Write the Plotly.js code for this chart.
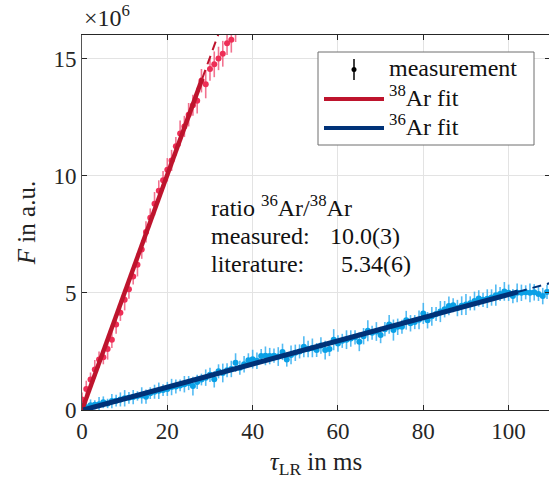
<!DOCTYPE html>
<html>
<head>
<meta charset="utf-8">
<script src="https://cdn.plot.ly/plotly-3.0.1.min.js"></script>
<style>html,body{margin:0;padding:0;background:#fff;overflow:hidden;}</style>
</head>
<body>
<div id="chart" style="width:551px;height:479px;"></div>
<script>
// ---- data (F in units of 1e6, tau in ms) ----
const ar38Tau = [0,1,2,3,4,5,6,7,8,9,10,11,12,13,14,15,16,17,18,19,20,21,22,23,24,25,26,27,28,29,30,31,32,33,34,35,36];
const ar38F = [0.45,0.9,1.3,1.73,2.15,2.25,2.6,3.0,3.65,4.15,4.7,5.15,5.7,6.2,6.85,7.6,8.2,8.8,9.35,9.8,10.25,10.65,11.25,11.8,12.1,12.6,13.0,13.2,14.05,13.9,14.55,14.75,15.0,15.2,15.65,15.8,16.3];
const ar38Err = [0.3,0.35,0.3,0.4,0.35,0.3,0.45,0.35,0.4,0.35,0.45,0.4,0.35,0.5,0.4,0.45,0.4,0.5,0.45,0.4,0.5,0.45,0.4,0.55,0.45,0.5,0.45,0.55,0.5,0.6,0.5,0.55,0.5,0.55,0.5,0.55,0.6];

const ar36Tau = [0,1,2,3,4,5,6,7,8,9,10,11,12,13,14,15,16,17,18,19,20,21,22,23,24,25,26,27,28,29,30,31,32,33,34,35,36,37,38,39,40,41,42,43,44,45,46,47,48,49,50,51,52,53,54,55,56,57,58,59,60,61,62,63,64,65,66,67,68,69,70,71,72,73,74,75,76,77,78,79,80,81,82,83,84,85,86,87,88,89,90,91,92,93,94,95,96,97,98,99,100,101,102,103,104,105,106,107,108,109,110];
const ar36F = [0.18,0.12,0.2,0.22,0.25,0.33,0.28,0.38,0.4,0.45,0.5,0.52,0.55,0.6,0.62,0.57,0.72,0.78,0.82,0.85,0.9,0.98,1.0,1.05,1.1,1.15,1.02,1.2,1.3,1.38,1.5,1.31,1.65,1.58,1.7,1.75,2.02,1.8,1.95,2.12,2.17,2.1,2.3,2.31,2.3,2.32,2.28,2.48,2.15,2.35,2.44,2.5,2.7,2.6,2.65,2.56,2.75,2.56,2.6,3.0,2.84,2.95,3.0,3.05,3.1,2.91,3.15,3.38,3.3,3.35,3.2,3.45,3.65,3.41,3.55,3.55,3.83,3.7,3.75,3.85,4.12,3.83,4.0,4.1,4.2,4.3,4.44,4.47,4.35,4.45,4.5,4.55,4.65,4.76,4.7,4.75,4.8,4.9,4.95,5.06,5.0,4.86,5.0,5.0,5.02,5.0,5.02,4.95,4.86,5.04,5.08];
const ar36Err = [0.15,0.2,0.25,0.2,0.3,0.25,0.2,0.3,0.25,0.3,0.35,0.25,0.3,0.2,0.35,0.3,0.25,0.3,0.35,0.25,0.3,0.35,0.3,0.25,0.35,0.3,0.4,0.3,0.25,0.35,0.3,0.35,0.3,0.4,0.3,0.35,0.4,0.3,0.35,0.3,0.4,0.35,0.3,0.4,0.35,0.3,0.4,0.35,0.3,0.4,0.35,0.3,0.45,0.35,0.4,0.3,0.35,0.4,0.3,0.45,0.35,0.3,0.4,0.35,0.3,0.4,0.35,0.45,0.3,0.4,0.35,0.3,0.4,0.45,0.35,0.3,0.4,0.35,0.3,0.4,0.45,0.35,0.4,0.3,0.45,0.35,0.4,0.3,0.35,0.4,0.45,0.3,0.4,0.35,0.3,0.4,0.35,0.45,0.3,0.4,0.35,0.3,0.4,0.35,0.3,0.4,0.35,0.3,0.35,0.3,0.35];

// fit lines (endpoints): solid part then dashed extrapolation
const fit38SolidTau = [0, 28.2];
const fit38SolidF = [0, 14.15];
const fit38DashTau = [28.2, 33];
const fit38DashF = [14.15, 16.55];
const fit36SolidTau = [0.3, 102.2];
const fit36SolidF = [0, 5.04];
const fit36DashTau = [102.2, 110];
const fit36DashF = [5.04, 5.43];

const xTicks = [0,20,40,60,80,100];
const yTicks = [0,5,10,15];
const legendLabels = ['measurement', '<sup>38</sup>Ar fit', '<sup>36</sup>Ar fit'];
const infoLines = ['ratio <sup>36</sup>Ar/<sup>38</sup>Ar', 'measured:', 'literature:'];
const infoValues = ['10.0(3)', '5.34(6)'];

const SCALE = 1e6;
const sc = a => a.map(v => v * SCALE);

// colours
const RED_PT = 'rgb(238,46,86)', RED_ERR = 'rgba(240,90,125,0.85)', RED_FIT = 'rgb(190,20,45)';
const BLUE_PT = 'rgb(10,160,230)', BLUE_ERR = 'rgba(40,170,240,0.8)', BLUE_FIT = 'rgb(0,50,120)';

const FONT = "'Liberation Serif'";

// plot area in pixels (right edge just outside the visible window)
const W = 551, H = 479;
const L = 82, R = 550, T = 35, B = 410;
const px = p => (p - L) / (R - L);
const py = p => (B - p) / (B - T);

const traces = [
  { x: ar38Tau, y: sc(ar38F), type: 'scatter', mode: 'markers', showlegend: false,
    marker: { color: RED_PT, size: 6 },
    error_y: { type: 'data', array: sc(ar38Err), color: RED_ERR, thickness: 1.6, width: 0 } },
  { x: ar36Tau, y: sc(ar36F), type: 'scatter', mode: 'markers', showlegend: false,
    marker: { color: BLUE_PT, size: 6 },
    error_y: { type: 'data', array: sc(ar36Err), color: BLUE_ERR, thickness: 1.6, width: 0 } },
  { x: fit38SolidTau, y: sc(fit38SolidF), type: 'scatter', mode: 'lines', showlegend: false,
    line: { color: RED_FIT, width: 4.5 } },
  { x: fit38DashTau, y: sc(fit38DashF), type: 'scatter', mode: 'lines', showlegend: false,
    line: { color: RED_FIT, width: 2, dash: '9px,6px' } },
  { x: fit36SolidTau, y: sc(fit36SolidF), type: 'scatter', mode: 'lines', showlegend: false,
    line: { color: BLUE_FIT, width: 5 } },
  { x: fit36DashTau, y: sc(fit36DashF), type: 'scatter', mode: 'lines', showlegend: false,
    line: { color: BLUE_FIT, width: 2, dash: '9px,6px' } }
];

const shapes = [
  { type: 'rect', xref: 'paper', yref: 'paper', x0: px(318), x1: px(534), y0: py(145), y1: py(52),
    fillcolor: 'white', line: { color: '#6e6e6e', width: 1 } },
  { type: 'line', xref: 'paper', yref: 'paper', x0: px(354), x1: px(354), y0: py(80), y1: py(59),
    line: { color: 'black', width: 1.5 } },
  { type: 'circle', xref: 'paper', yref: 'paper', x0: px(351.5), x1: px(356.5), y0: py(72), y1: py(67),
    fillcolor: 'black', line: { color: 'black', width: 0 } },
  { type: 'line', xref: 'paper', yref: 'paper', x0: px(324), x1: px(384), y0: py(99), y1: py(99),
    line: { color: RED_FIT, width: 4 } },
  { type: 'line', xref: 'paper', yref: 'paper', x0: px(324), x1: px(384), y0: py(128), y1: py(128),
    line: { color: BLUE_FIT, width: 4 } }
];

const ann = (text, x, y, anchor, size) => ({
  text, xref: 'paper', yref: 'paper', x: px(x), y: py(y), xanchor: anchor || 'left', yanchor: 'middle',
  showarrow: false, font: { family: FONT, size: size || 24, color: '#111' }
});

const annotations = [
  ann(legendLabels[0], 387, 68),
  ann(legendLabels[1], 387, 96),
  ann(legendLabels[2], 387, 125),
  ann(infoLines[0], 209, 206),
  ann(infoLines[1], 209, 236),
  ann(infoLines[2], 209, 264),
  ann(infoValues[0], 328, 236),
  ann(infoValues[1], 339, 264),
  { text: '×10<sup>6</sup>', xref: 'paper', yref: 'paper', x: 0, y: py(16), xanchor: 'left', yanchor: 'middle',
    showarrow: false, font: { family: FONT, size: 24, color: '#222' } }
];

const axisCommon = {
  showgrid: true, gridcolor: '#e3e3e3', gridwidth: 1,
  ticks: 'inside', ticklen: 5, tickwidth: 1, tickcolor: '#262626',
  showline: true, linewidth: 1, mirror: 'ticks', zeroline: false,
  tickfont: { family: FONT, size: 23, color: '#262626' }
};

const layout = {
  width: W, height: H,
  margin: { l: L, r: W - R, t: T, b: H - B },
  paper_bgcolor: 'white', plot_bgcolor: 'white',
  showlegend: false,
  font: { family: FONT },
  xaxis: Object.assign({}, axisCommon, {
    range: [0, 109.7], tickvals: xTicks, ticktext: xTicks.map(String), linecolor: '#262626',
    title: { text: '<i>τ</i><sub>LR</sub> in ms', font: { family: FONT, size: 25, color: '#222' }, standoff: 12 }
  }),
  yaxis: Object.assign({}, axisCommon, {
    range: [0, 16e6], tickvals: sc(yTicks), ticktext: yTicks.map(String), linecolor: '#555',
    title: { text: '<i>F</i> in a.u.', font: { family: FONT, size: 25, color: '#222' }, standoff: 10 }
  }),
  shapes, annotations
};

Plotly.newPlot('chart', traces, layout, { displayModeBar: false, staticPlot: true });
</script>
</body>
</html>
